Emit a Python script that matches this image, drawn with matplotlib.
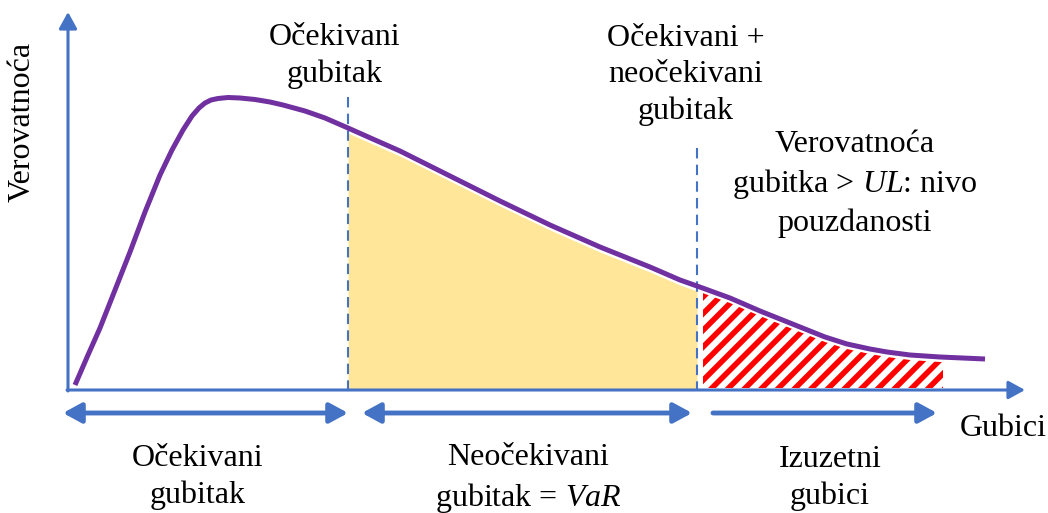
import numpy as np
import matplotlib.pyplot as plt

plt.rcParams['font.family'] = ['Liberation Serif', 'DejaVu Serif']
plt.rcParams['mathtext.fontset'] = 'custom'
plt.rcParams['mathtext.rm'] = 'Liberation Serif'
plt.rcParams['mathtext.it'] = 'Liberation Serif:italic'
plt.rcParams['hatch.linewidth'] = 4.0

# Loss distribution curve (pixel-like units, y grows downward)
curve_x = [75, 88, 100, 115, 130, 145, 160, 172, 183, 192, 199, 205, 211, 218,
           228, 240, 255, 270, 283, 305, 325, 348, 375, 400, 450, 500, 550, 600,
           650, 680, 697, 730, 760, 780, 800, 825, 847, 870, 887, 910, 940, 985]
curve_y = [385, 355, 328, 290, 252, 212, 175, 150, 130, 116, 108, 103, 100, 98.5,
           97.5, 98, 99.5, 102, 105, 111, 118, 128, 140, 151, 176, 201, 225, 247,
           267, 280, 286, 298, 311, 319, 327, 337, 344, 349, 352, 355, 357, 359]

expected_loss = 348      # EL marker
var_level = 697          # EL + UL marker
tail_end = 943
axis_y = 390
fill_gap = 5

blue = '#4472C4'
purple = '#7030A0'
yellow = '#FFE699'

fig = plt.figure(figsize=(10.48, 5.13), dpi=100)
ax = fig.add_axes([0, 0, 1, 1])
ax.set_xlim(0, 1048)
ax.set_ylim(513, 0)
ax.axis('off')

cx = np.array(curve_x, dtype=float)
cy = np.array(curve_y, dtype=float)

# yellow area between EL and VaR
m = (cx >= expected_loss) & (cx <= var_level)
ax.fill_between(cx[m], cy[m] + fill_gap, axis_y, color=yellow, lw=0, zorder=1)

# hatched tail
m2 = (cx >= 703) & (cx <= tail_end)
tx = np.concatenate([[703], cx[m2], [tail_end]])
ty = np.interp(tx, cx, cy) + fill_gap
ax.fill_between(tx, ty, axis_y - 2, facecolor='white', edgecolor='red',
                hatch='//', lw=0, zorder=1)

# curve
ax.plot(cx, cy, color=purple, lw=3.6, solid_capstyle='butt',
        solid_joinstyle='round', zorder=3)

# dashed markers
ax.plot([expected_loss, expected_loss], [97, axis_y], color=blue, lw=1.5,
        ls=(0, (5, 3)), zorder=2)
ax.plot([var_level, var_level], [148, axis_y], color=blue, lw=1.5,
        ls=(0, (5, 3)), zorder=2)

# axes with arrows
head = dict(arrowstyle='-|>,head_length=1.0,head_width=0.55', color=blue,
            lw=2.2, shrinkA=0, shrinkB=0)
ax.annotate('', xy=(68, 12), xytext=(68, axis_y + 1), arrowprops=head, zorder=4)
ax.annotate('', xy=(1025, axis_y), xytext=(67, axis_y), arrowprops=head, zorder=4)

# range arrows under the axis
both = dict(arrowstyle='<|-|>,head_length=1.1,head_width=0.6', color=blue,
            lw=3.5, shrinkA=0, shrinkB=0)
one = dict(arrowstyle='-|>,head_length=1.1,head_width=0.6', color=blue,
           lw=3.5, shrinkA=0, shrinkB=0)
ax.annotate('', xy=(348, 413), xytext=(63, 413), arrowprops=both)
ax.annotate('', xy=(692, 413), xytext=(362, 413), arrowprops=both)
ax.annotate('', xy=(937, 413), xytext=(713, 413), arrowprops=one)

fs = 23
ls = 1.33
ax.text(22, 122, 'Verovatnoća', rotation=90, ha='center', va='center', fontsize=fs)
ax.text(335, 56, 'Očekivani\ngubitak', ha='center', va='center', fontsize=fs,
        linespacing=ls)
ax.text(686, 75, 'Očekivani +\nneočekivani\ngubitak', ha='center', va='center',
        fontsize=fs, linespacing=ls)
ax.text(855, 184, 'Verovatnoća\ngubitka > $\\mathit{UL}$: nivo\npouzdanosti',
        ha='center', va='center', fontsize=fs, linespacing=ls)
ax.text(1003, 428, 'Gubici', ha='center', va='center', fontsize=fs)
ax.text(198, 477, 'Očekivani\ngubitak', ha='center', va='center', fontsize=fs,
        linespacing=ls)
ax.text(528, 479, 'Neočekivani\ngubitak = $\\mathit{VaR}$', ha='center',
        va='center', fontsize=fs, linespacing=ls)
ax.text(830, 478, 'Izuzetni\ngubici', ha='center', va='center', fontsize=fs,
        linespacing=ls)

fig.savefig('out.png', dpi=100)
